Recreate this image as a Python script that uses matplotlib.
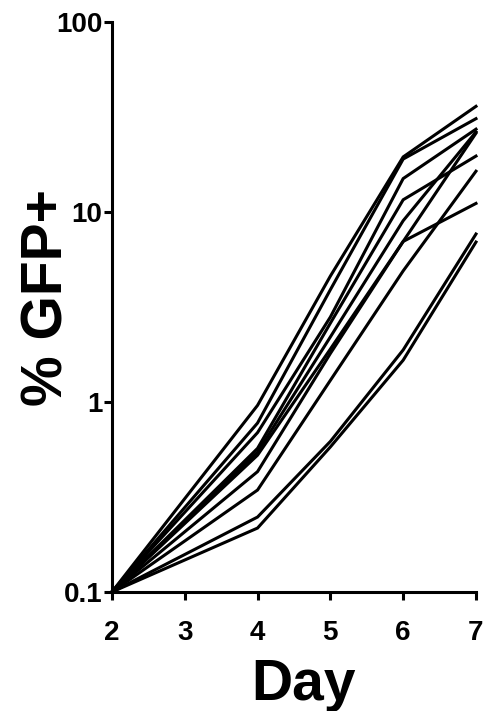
import numpy as np
import matplotlib
matplotlib.use("Agg")
import matplotlib.pyplot as plt
from matplotlib.ticker import FixedLocator, FixedFormatter, NullLocator

plt.rcParams['font.family'] = ['Liberation Sans', 'DejaVu Sans']
plt.rcParams['font.weight'] = 'bold'

days = [2, 4, 5, 6, 7]

# % GFP+ per replicate
series = [
    [0.1, 0.96, 4.6, 19.5, 36.0],
    [0.1, 0.775, 3.9, 19.0, 31.0],
    [0.1, 0.69, 2.8, 15.0, 27.3],
    [0.1, 0.57, 2.6, 11.6, 19.7],
    [0.1, 0.545, 2.2, 9.0, 26.4],
    [0.1, 0.525, 1.9, 7.0, 11.1],
    [0.1, 0.43, 1.8, 7.0, 26.0],
    [0.1, 0.344, 1.3, 4.9, 16.4],
    [0.1, 0.248, 0.62, 1.88, 7.66],
    [0.1, 0.217, 0.58, 1.66, 6.95],
]

y_ticks = [0.1, 1, 10, 100]
y_tick_labels = ['0.1', '1', '10', '100']
x_ticks = [2, 3, 4, 5, 6, 7]

fig = plt.figure(figsize=(4.93, 7.11), dpi=100)
ax = fig.add_axes([0.227, 0.1674, 0.9655 - 0.227, 0.969 - 0.1674])

for s in series:
    ax.plot(days, s, color='black', lw=2.2, solid_joinstyle='miter',
            clip_on=False)

ax.set_yscale('log')
ax.set_xlim(2, 7)
ax.set_ylim(0.1, 100)
ax.yaxis.set_major_locator(FixedLocator(y_ticks))
ax.yaxis.set_major_formatter(FixedFormatter(y_tick_labels))
ax.yaxis.set_minor_locator(NullLocator())
ax.set_xticks(x_ticks)

for side in ['top', 'right']:
    ax.spines[side].set_visible(False)
for side in ['left', 'bottom']:
    ax.spines[side].set_linewidth(2.2)

ax.tick_params(axis='both', width=2.2, length=5.5, labelsize=20)
ax.tick_params(axis='x', pad=15)
ax.tick_params(axis='y', pad=1.5)
for lab in ax.get_xticklabels() + ax.get_yticklabels():
    lab.set_fontweight('bold')

ax.set_xlabel('Day', fontsize=41, fontweight='bold', va='baseline')
ax.xaxis.set_label_coords(0.527, -0.189)
ax.set_ylabel('% GFP+', fontsize=41, fontweight='bold', va='baseline')
ax.yaxis.set_label_coords(-0.137, 0.516)

fig.savefig('out.png', dpi=100)
